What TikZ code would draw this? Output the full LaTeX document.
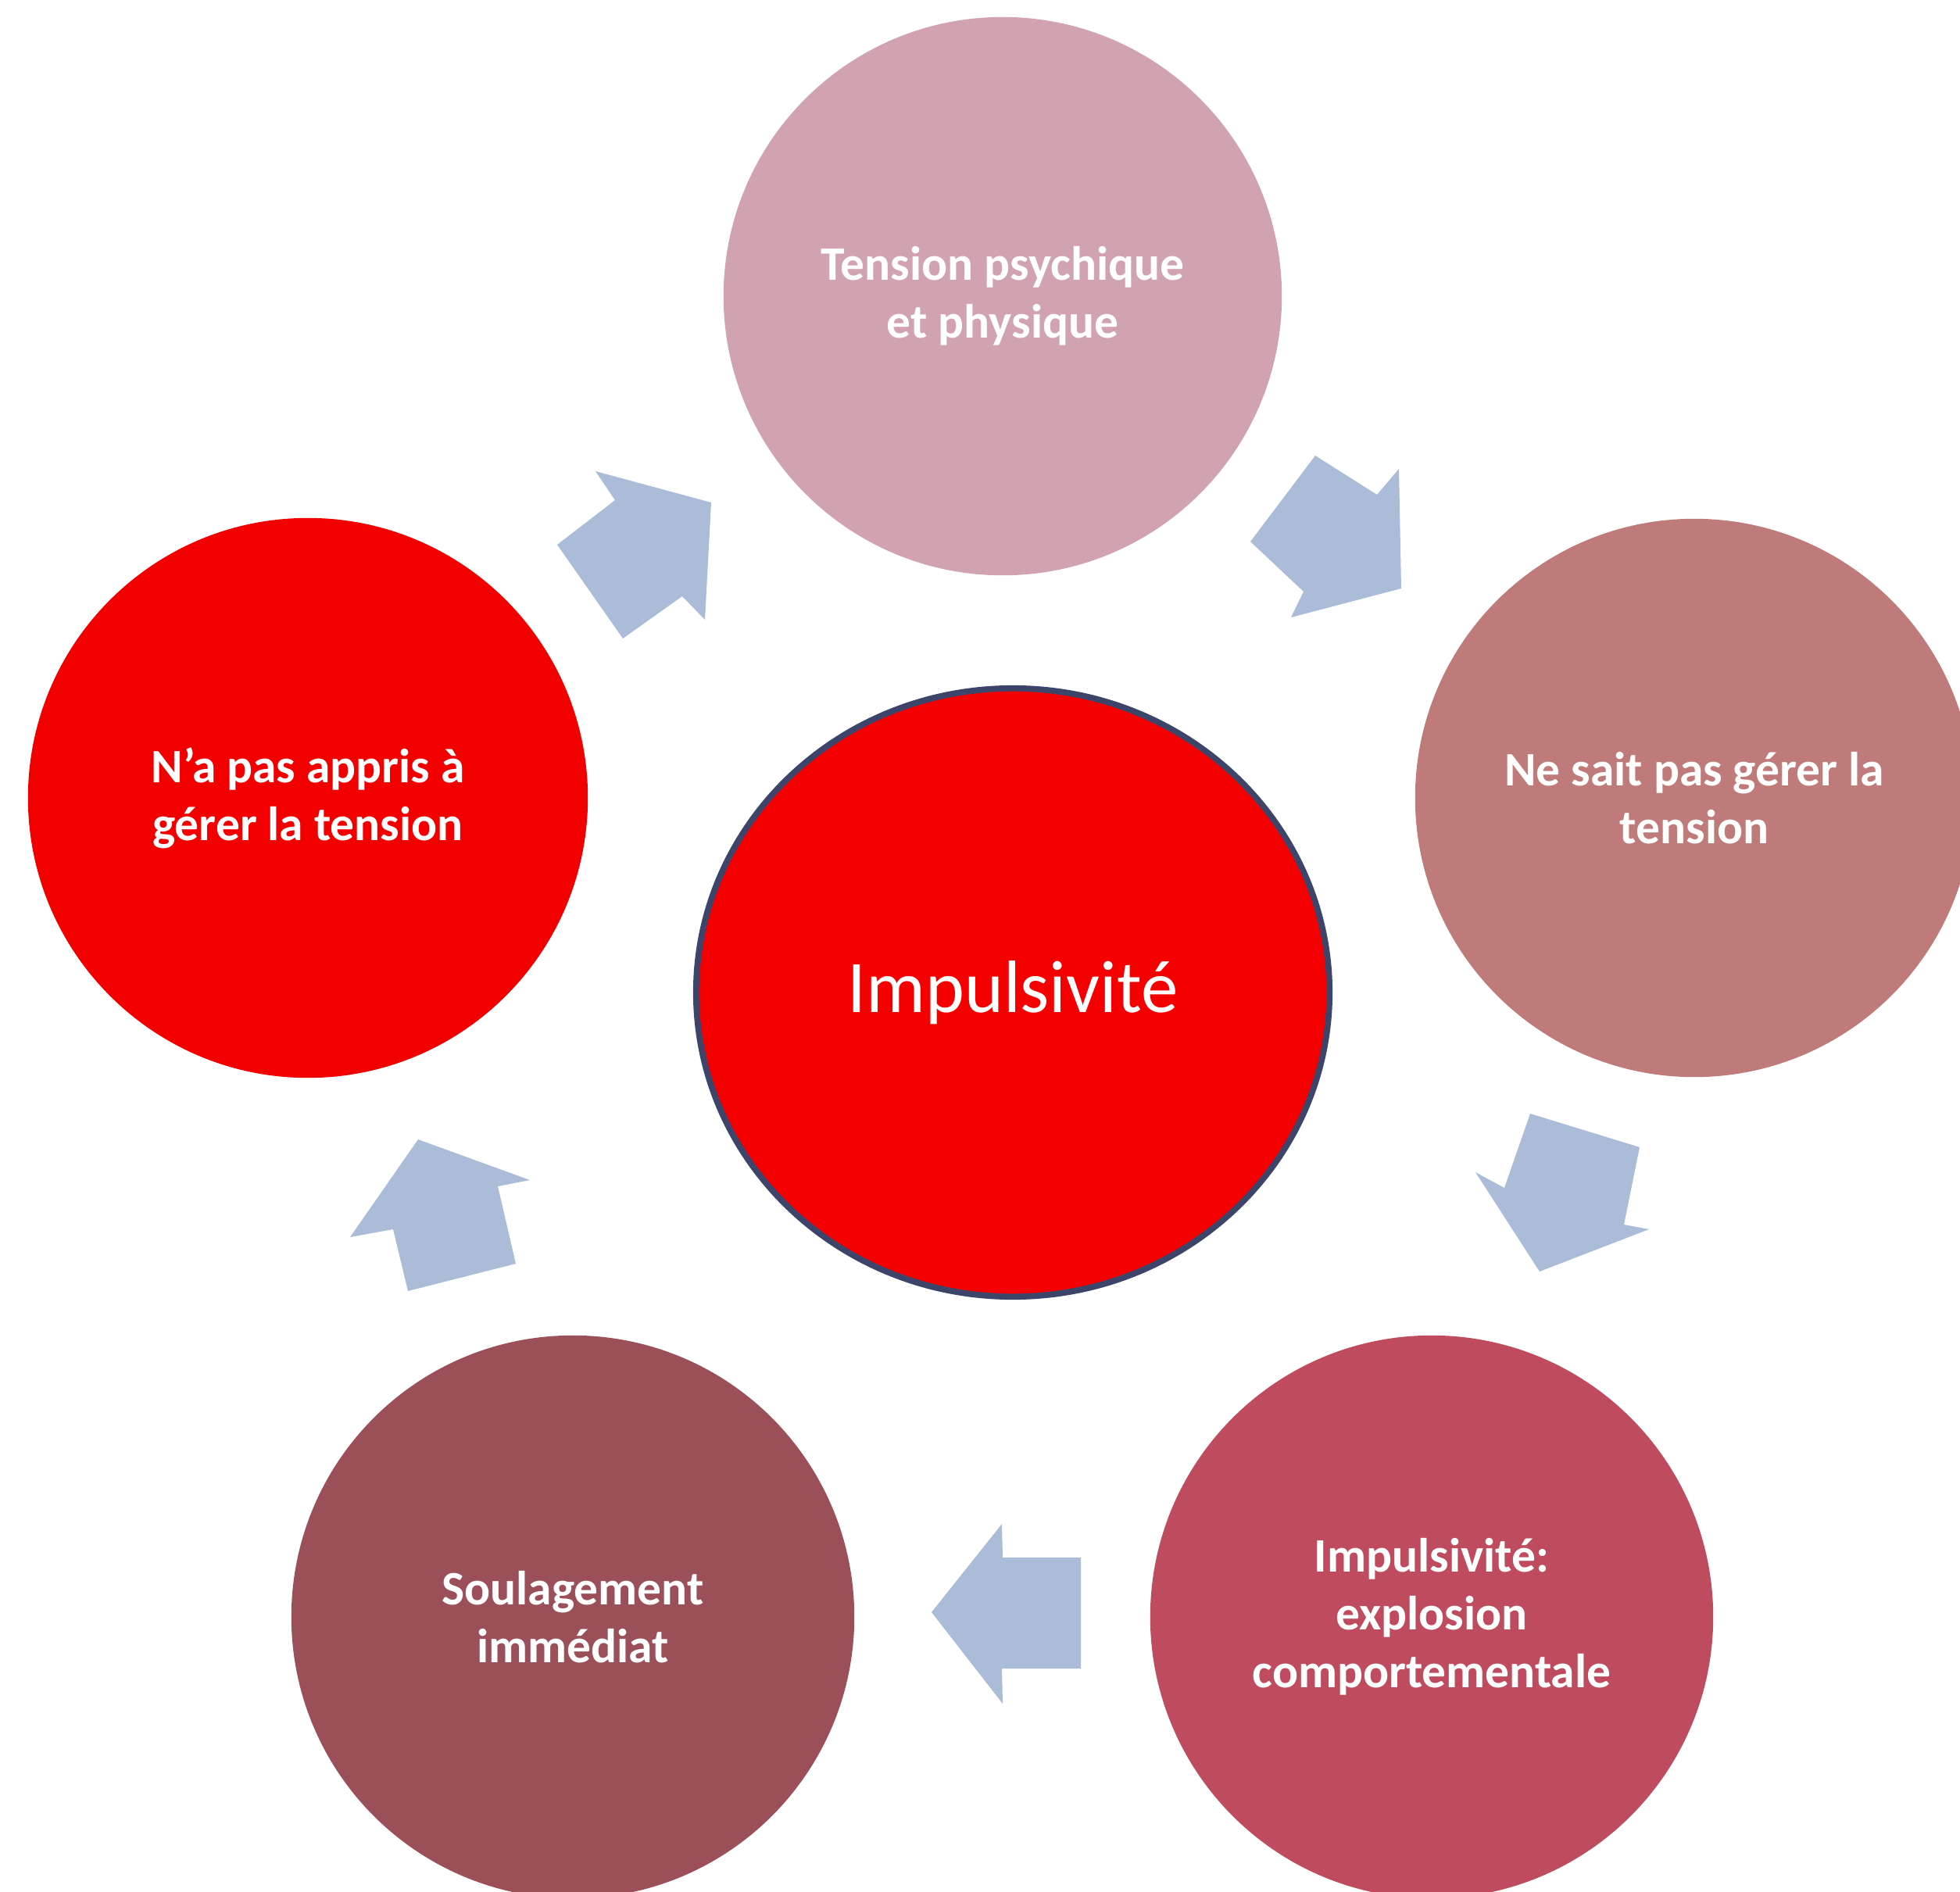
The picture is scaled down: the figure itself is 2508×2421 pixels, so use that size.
\documentclass[tikz,border=0pt]{standalone}
\usepackage{fontspec}
\usetikzlibrary{shapes.geometric}
\setmainfont{Carlito}
\definecolor{ctop}{RGB}{209,162,176}
\definecolor{cright}{RGB}{191,122,122}
\definecolor{cbr}{RGB}{191,76,94}
\definecolor{cbl}{RGB}{155,79,89}
\definecolor{cleft}{RGB}{242,0,0}
\definecolor{ccenter}{RGB}{245,0,0}
\definecolor{cborder}{RGB}{60,68,105}
\definecolor{carrow}{RGB}{170,188,216}
\begin{document}
\begin{tikzpicture}[x=0.01cm,y=-0.01cm,
  bub/.style={circle,minimum size=#1,inner sep=0pt,text=white,align=center,
    font=\bfseries\fontsize{17.5}{21}\selectfont},
  blockarrow/.style={fill=carrow}]
\useasboundingbox (0,0) rectangle (2508,2421);
\clip (0,0) rectangle (2508,2421);
\fill[white] (0,0) rectangle (2508,2421);
% circles
\node[bub=7.14cm, fill=ctop] (top) at (1283,379) {Tension psychique\\et physique};
\node[bub=7.14cm, fill=cright] (right) at (2168,1021) {Ne sait pas gérer la\\tension};
\node[bub=7.2cm, fill=cbr] (br) at (1832,2069) {Impulsivité:\\explosion\\comportementale};
\node[bub=7.2cm, fill=cbl] (bl) at (733,2069) {Soulagement\\immédiat};
\node[bub=7.16cm, fill=cleft] (left) at (394,1021) {N’a pas appris à\\gérer la tension};
\node[ellipse, minimum width=8.1cm, minimum height=7.78cm, inner sep=0pt, fill=ccenter, draw=cborder, line width=2.2pt,
  text=white, font=\fontsize{27}{32}\selectfont] (center) at (1296,1270) {Impulsivité};
% block arrows
\fill[blockarrow] (910,643) -- (762,603) -- (787,640) -- (713,697) -- (797,817) -- (873,763) -- (902,793) -- cycle;
\fill[blockarrow] (1793,753) -- (1790,600) -- (1762,633) -- (1683,583) -- (1600,693) -- (1668,757) -- (1652,790) -- cycle;
\fill[blockarrow] (1970,1627) -- (2110,1573) -- (2078,1567) -- (2098,1468) -- (1958,1425) -- (1925,1520) -- (1888,1500) -- cycle;
\fill[blockarrow] (1192,2063) -- (1282,1950) -- (1283,1993) -- (1383,1993) -- (1383,2135) -- (1282,2135) -- (1283,2180) -- cycle;
\fill[blockarrow] (535,1458) -- (678,1510) -- (637,1518) -- (660,1617) -- (522,1652) -- (503,1573) -- (448,1583) -- cycle;
\end{tikzpicture}
\end{document}
